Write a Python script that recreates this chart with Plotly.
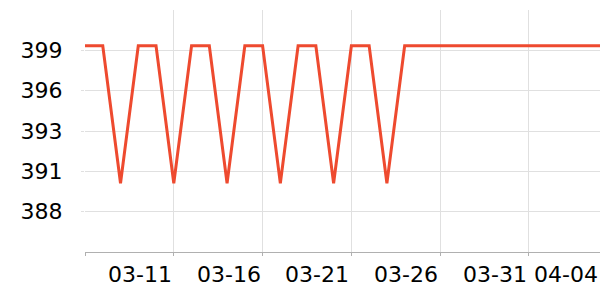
import plotly.graph_objects as go

dates = ["2024-03-06", "2024-03-07", "2024-03-08", "2024-03-09", "2024-03-10",
         "2024-03-11", "2024-03-12", "2024-03-13", "2024-03-14", "2024-03-15",
         "2024-03-16", "2024-03-17", "2024-03-18", "2024-03-19", "2024-03-20",
         "2024-03-21", "2024-03-22", "2024-03-23", "2024-03-24", "2024-03-25",
         "2024-03-26", "2024-03-27", "2024-03-28", "2024-03-29", "2024-03-30",
         "2024-03-31", "2024-04-01", "2024-04-02", "2024-04-03", "2024-04-04"]
values = [399.1, 399.1, 389.9, 399.1, 399.1,
          389.9, 399.1, 399.1, 389.9, 399.1,
          399.1, 389.9, 399.1, 399.1, 389.9,
          399.1, 399.1, 389.9, 399.1, 399.1,
          399.1, 399.1, 399.1, 399.1, 399.1,
          399.1, 399.1, 399.1, 399.1, 399.1]

x_grid = ["2024-03-06", "2024-03-11", "2024-03-16", "2024-03-21", "2024-03-26", "2024-03-31", "2024-04-04"]
x_label_pos = ["2024-03-11", "2024-03-16", "2024-03-21", "2024-03-26", "2024-03-31", "2024-04-04"]
x_labels = ["03-11", "03-16", "03-21", "03-26", "03-31", "04-04"]

y_tickvals = [388.0, 390.7, 393.4, 396.1, 398.8]
y_ticktext = ["388", "391", "393", "396", "399"]
y_range = [385.3, 401.5]

LINE = "#ee4a2f"
GRID = "#e0e0e0"
AXIS = "#b0b0b0"
FONT = "DejaVu Sans"

fig = go.Figure()
fig.add_trace(go.Scatter(x=dates, y=values, mode="lines",
                         line=dict(color=LINE, width=3), hoverinfo="skip"))

for xl, txt in zip(x_label_pos, x_labels):
    fig.add_annotation(x=xl, y=0, xref="x", yref="paper", text=txt,
                       showarrow=False, xanchor="right", yanchor="middle",
                       yshift=-22, font=dict(family=FONT, size=22, color="#000000"))

fig.update_layout(
    width=600, height=300,
    margin=dict(l=85, r=0, t=10, b=48),
    paper_bgcolor="white", plot_bgcolor="white",
    showlegend=False,
    font=dict(family=FONT, size=22, color="#000000"),
)
fig.update_xaxes(
    range=["2024-03-06", "2024-04-04"],
    tickvals=x_grid, showticklabels=False,
    showgrid=True, gridcolor=GRID, gridwidth=1,
    ticks="outside", ticklen=3, tickcolor=AXIS,
    showline=True, linecolor=AXIS, linewidth=1,
    zeroline=False,
)
fig.update_yaxes(
    range=y_range,
    tickvals=y_tickvals, ticktext=y_ticktext,
    showgrid=True, gridcolor=GRID, gridwidth=1,
    ticks="outside", ticklen=3, tickcolor=GRID,
    ticklabelstandoff=14,
    showline=False, zeroline=False,
    tickfont=dict(family=FONT, size=22, color="#000000"),
)

fig.write_html("out.html")
